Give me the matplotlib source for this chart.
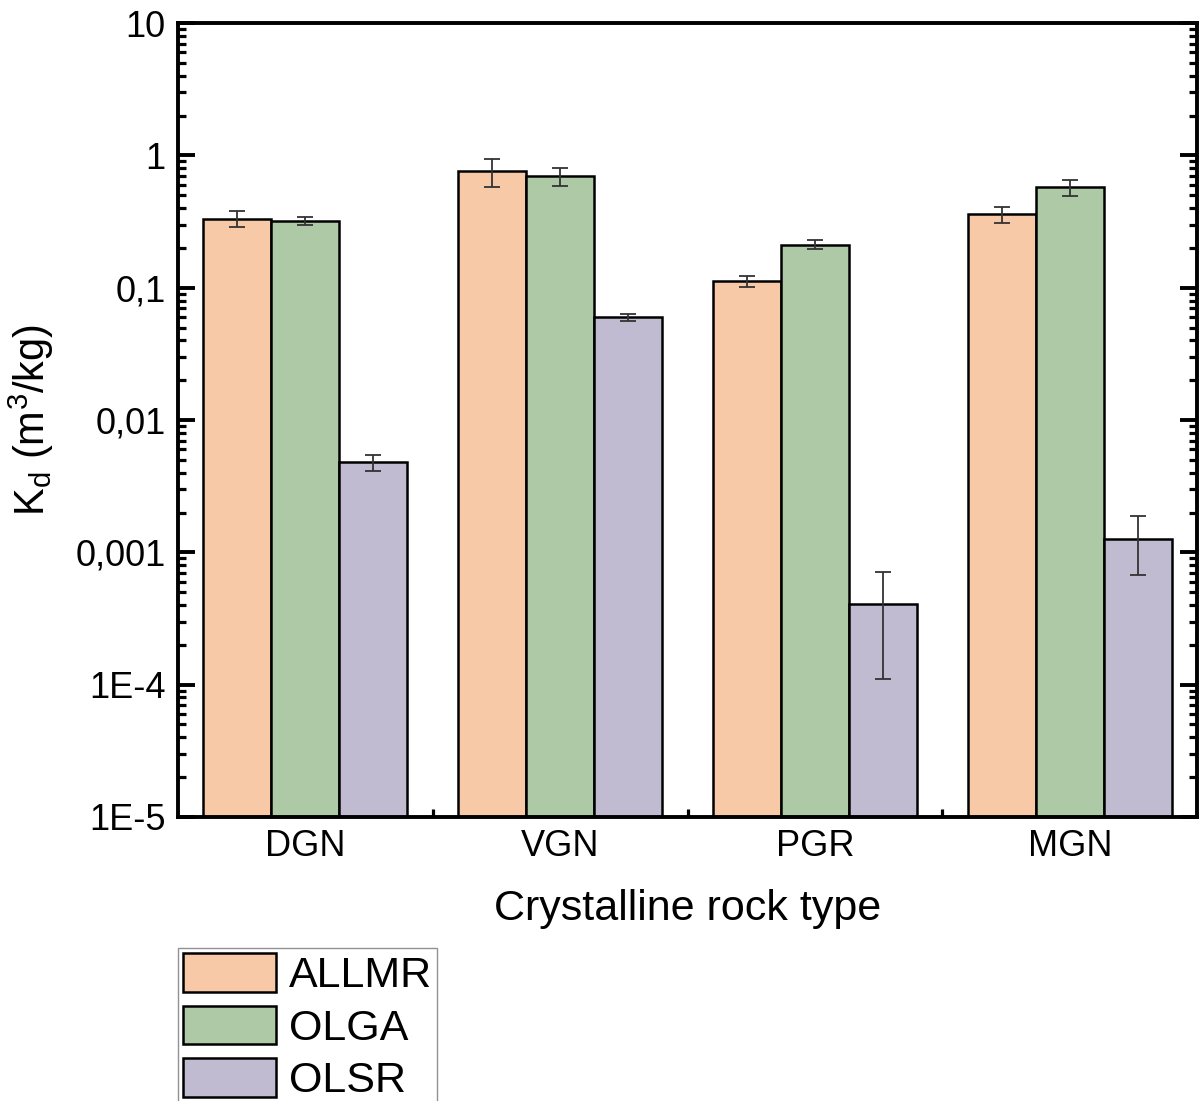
import numpy as np
import matplotlib
matplotlib.use('Agg')
import matplotlib.pyplot as plt
from matplotlib.ticker import FixedLocator, FixedFormatter, LogLocator, NullFormatter

rocks = ['DGN', 'VGN', 'PGR', 'MGN']
series = ['ALLMR', 'OLGA', 'OLSR']
colors = ['#F7C9A6', '#AEC9A5', '#C0BBD0']

allmr = [0.333, 0.757, 0.112, 0.358]
allmr_err = [0.045, 0.175, 0.010, 0.050]
olga = [0.320, 0.694, 0.212, 0.573]
olga_err = [0.020, 0.110, 0.017, 0.080]
olsr = [0.00478, 0.0596, 0.00041, 0.00127]
olsr_err = [0.00065, 0.0040, 0.00030, 0.00060]

yticks = [1e-5, 1e-4, 1e-3, 1e-2, 1e-1, 1, 10]
ytick_labels = ['1E-5', '1E-4', '0,001', '0,01', '0,1', '1', '10']

plt.rcParams['font.family'] = ['Liberation Sans', 'DejaVu Sans']

fig = plt.figure(figsize=(12.02, 11.01), dpi=100)
ax = fig.add_axes([0.148, 0.258, 0.848, 0.721])

x = np.arange(1, len(rocks) + 1)
w = 0.267
vals = [allmr, olga, olsr]
errs = [allmr_err, olga_err, olsr_err]
for i in range(3):
    ax.bar(x + (i - 1) * w, vals[i], w, color=colors[i], edgecolor='black',
           linewidth=1.8, label=series[i], zorder=2)
    ax.errorbar(x + (i - 1) * w, vals[i], yerr=errs[i], fmt='none',
                ecolor='#333333', elinewidth=1.3, capsize=5.8, capthick=1.3, zorder=3)

ax.set_yscale('log')
ax.set_ylim(1e-5, 10)
ax.set_xlim(0.5, 4.5)
ax.yaxis.set_major_locator(FixedLocator(yticks))
ax.yaxis.set_major_formatter(FixedFormatter(ytick_labels))
ax.yaxis.set_minor_locator(LogLocator(base=10, subs=np.arange(2, 10)))
ax.yaxis.set_minor_formatter(NullFormatter())
ax.set_xticks(x)
ax.set_xticklabels(rocks)
ax.set_xticks([1.5, 2.5, 3.5], minor=True)

for s in ax.spines.values():
    s.set_linewidth(2.8)
ax.tick_params(axis='both', which='major', direction='in', length=12, width=2.8,
               labelsize=26, pad=9)
ax.tick_params(axis='both', which='minor', direction='in', length=6, width=2.3)
ax.tick_params(axis='y', which='both', left=True, right=True)
ax.tick_params(axis='x', which='both', top=False)

ax.set_xlabel('Crystalline rock type', fontsize=31, labelpad=18)
ax.set_ylabel('K$_\\mathregular{d}$ (m$^\\mathregular{3}$/kg)', fontsize=30, labelpad=14)

fig.legend(loc='upper left', bbox_to_anchor=(0.148, 0.139), fontsize=31,
           handlelength=2.15, handleheight=1.0, labelspacing=0.22,
           handletextpad=0.3, borderpad=0.12, borderaxespad=0,
           frameon=True, fancybox=False, edgecolor='#777777')

fig.savefig('out.png', dpi=100)
